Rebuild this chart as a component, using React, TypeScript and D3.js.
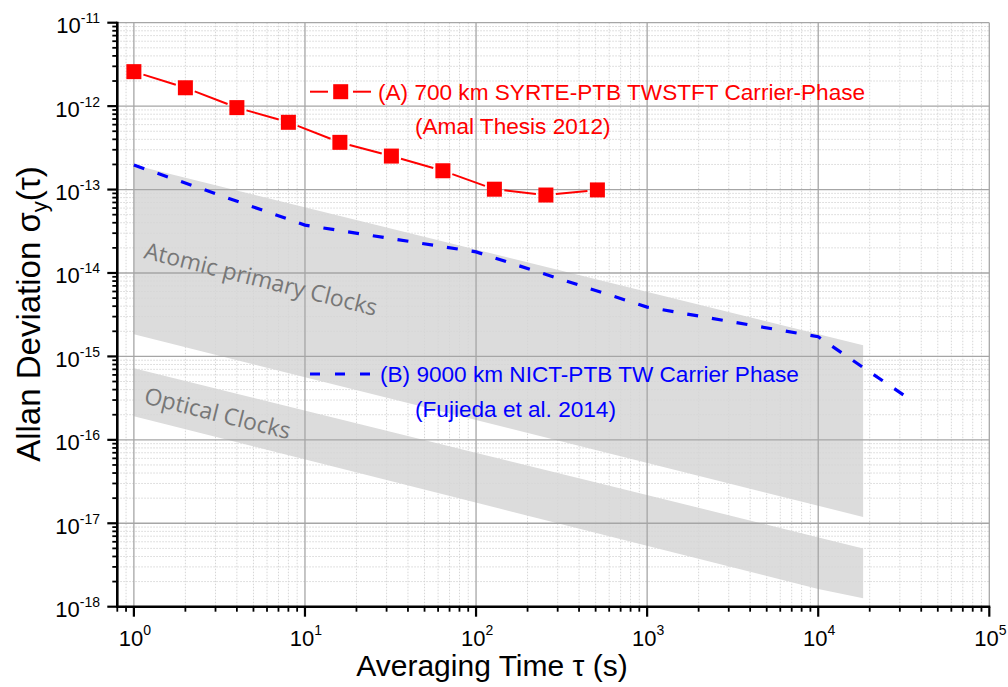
import React from "react";
import * as d3 from "d3";

// ---------- data ----------
const tauA = [1, 2, 4, 8, 16, 32, 64, 128, 256, 512];
const adevA = [2.59e-12, 1.66e-12, 9.6e-13, 6.4e-13, 3.68e-13, 2.52e-13, 1.68e-13, 1.01e-13, 8.6e-14, 9.9e-14];

const tauB = [1, 10, 100, 1000, 1e4, 3.44e4];
const adevB = [1.97e-13, 3.75e-14, 1.79e-14, 3.9e-15, 1.72e-15, 3.05e-16];

const atomicTau = [1, 1.83e4];
const atomicUpper = [1.97e-13, 1.36e-15];
const atomicLower = [1.84e-15, 1.19e-17];

const opticalUpperTau = [1, 1.83e4];
const opticalUpper = [7.2e-16, 5.0e-18];
const opticalLowerTau = [1, 1e4, 1.83e4];
const opticalLower = [1.92e-16, 1.63e-18, 1.26e-18];

const xMajor = [1, 10, 100, 1000, 1e4, 1e5];
const xMajorExp = ["0", "1", "2", "3", "4", "5"];
const yMajorExp = [-18, -17, -16, -15, -14, -13, -12, -11];

const legendA = "(A) 700 km SYRTE-PTB TWSTFT Carrier-Phase";
const legendA2 = "(Amal Thesis 2012)";
const legendB = "(B) 9000 km NICT-PTB TW Carrier Phase";
const legendB2 = "(Fujieda et al. 2014)";

// ---------- layout ----------
const W = 1008;
const H = 687;
const left = 117.3;
const right = 989.3;
const top = 22.7;
const bottom = 606.7;

const x = d3.scaleLog().domain([0.8, 1e5]).range([left, right]);
const y = d3.scaleLog().domain([1e-18, 1e-11]).range([bottom, top]);

const FONT = "'Liberation Sans', Arial, sans-serif";

function minorVals(lo: number, hi: number, start: number, end: number) {
  const out: number[] = [];
  for (let e = lo; e <= hi; e++) {
    for (let m = 2; m <= 9; m++) {
      const v = m * Math.pow(10, e);
      if (v > start * 1.0001 && v < end * 0.9999) out.push(v);
    }
  }
  return out;
}

export default function App() {
  const xMinor = [0.8, 0.9, ...minorVals(0, 4, 0.8, 1e5)];
  const yMinor = minorVals(-18, -12, 1e-18, 1e-11);

  const bandPath = (ut: number[], uv: number[], lt: number[], lv: number[]) => {
    const pts: [number, number][] = [];
    ut.forEach((t, i) => pts.push([x(t), y(uv[i])]));
    for (let i = lt.length - 1; i >= 0; i--) pts.push([x(lt[i]), y(lv[i])]);
    return d3.line()(pts) + "Z";
  };

  const lineB = d3
    .line<number>()
    .x((_, i) => x(tauB[i]))
    .y((d) => y(d))(adevB) as string;

  // red segments with gaps at markers
  const gap = 10;
  const segsA: { x1: number; y1: number; x2: number; y2: number }[] = [];
  for (let i = 0; i < tauA.length - 1; i++) {
    const x1 = x(tauA[i]), y1 = y(adevA[i]);
    const x2 = x(tauA[i + 1]), y2 = y(adevA[i + 1]);
    const L = Math.hypot(x2 - x1, y2 - y1);
    const ux = (x2 - x1) / L, uy = (y2 - y1) / L;
    segsA.push({ x1: x1 + ux * gap, y1: y1 + uy * gap, x2: x2 - ux * gap, y2: y2 - uy * gap });
  }

  const ms = 15;

  return (
    <svg
      width={W}
      height={H}
      style={{ position: "absolute", left: 0, top: 0, display: "block", background: "#fff" }}
    >
      {/* bands */}
      <path d={bandPath(atomicTau, atomicUpper, atomicTau, atomicLower)} fill="#dcdcdc" />
      <path d={bandPath(opticalUpperTau, opticalUpper, opticalLowerTau, opticalLower)} fill="#dcdcdc" />

      {/* minor grid */}
      {xMinor.map((v, i) => (
        <line key={"xm" + i} x1={x(v)} x2={x(v)} y1={top} y2={bottom} stroke="#d6d6d6" strokeWidth={1} strokeDasharray="1.5,1.5" />
      ))}
      {yMinor.map((v, i) => (
        <line key={"ym" + i} x1={left} x2={right} y1={y(v)} y2={y(v)} stroke="#d6d6d6" strokeWidth={1} strokeDasharray="1.5,1.5" />
      ))}
      {/* major grid */}
      {xMajor.map((v, i) => (
        <line key={"xM" + i} x1={x(v)} x2={x(v)} y1={top} y2={bottom} stroke="#a6a6a6" strokeWidth={1.3} />
      ))}
      {yMajorExp.map((e, i) => (
        <line key={"yM" + i} x1={left} x2={right} y1={y(Math.pow(10, e))} y2={y(Math.pow(10, e))} stroke="#a6a6a6" strokeWidth={1.3} />
      ))}

      {/* band labels */}
      <text
        x={0}
        y={0}
        transform={`translate(143,258) rotate(14)`}
        fill="#777"
        fontFamily="'Open Sans', sans-serif"
        fontSize={23}
      >
        Atomic primary Clocks
      </text>
      <text
        x={0}
        y={0}
        transform={`translate(143,403) rotate(14)`}
        fill="#777"
        fontFamily="'Open Sans', sans-serif"
        fontSize={23}
      >
        Optical Clocks
      </text>

      {/* series B */}
      <path d={lineB} fill="none" stroke="#0000ff" strokeWidth={3.2} strokeDasharray="11,14" />

      {/* series A */}
      {segsA.map((s, i) => (
        <line key={"sa" + i} x1={s.x1} y1={s.y1} x2={s.x2} y2={s.y2} stroke="#ff0000" strokeWidth={2} />
      ))}
      {tauA.map((t, i) => (
        <rect key={"ma" + i} x={x(t) - ms / 2} y={y(adevA[i]) - ms / 2} width={ms} height={ms} fill="#ff0000" />
      ))}

      {/* legends */}
      <line x1={310} x2={328} y1={91.7} y2={91.7} stroke="#ff0000" strokeWidth={2} />
      <line x1={353} x2={371} y1={91.7} y2={91.7} stroke="#ff0000" strokeWidth={2} />
      <rect x={340.7 - ms / 2} y={91.7 - ms / 2} width={ms} height={ms} fill="#ff0000" />
      <text x={378} y={100} fill="#ff0000" fontFamily={FONT} fontSize={22.6}>{legendA}</text>
      <text x={415} y={134} fill="#ff0000" fontFamily={FONT} fontSize={22.6}>{legendA2}</text>

      <line x1={310} x2={372} y1={374} y2={374} stroke="#0000ff" strokeWidth={3.2} strokeDasharray="10,15" />
      <text x={380} y={382} fill="#0000ff" fontFamily={FONT} fontSize={22.6}>{legendB}</text>
      <text x={415} y={417} fill="#0000ff" fontFamily={FONT} fontSize={22.6}>{legendB2}</text>

      {/* axes */}
      <line x1={left} x2={left} y1={top - 1} y2={bottom + 1.3} stroke="#000" strokeWidth={2.6} />
      <line x1={left - 1.3} x2={right + 1} y1={bottom} y2={bottom} stroke="#000" strokeWidth={2.6} />

      {/* y ticks */}
      {yMajorExp.map((e, i) => (
        <line key={"ytM" + i} x1={left - 10} x2={left} y1={y(Math.pow(10, e))} y2={y(Math.pow(10, e))} stroke="#000" strokeWidth={2.2} />
      ))}
      {yMinor.map((v, i) => (
        <line key={"ytm" + i} x1={left - 5} x2={left} y1={y(v)} y2={y(v)} stroke="#000" strokeWidth={1.8} />
      ))}
      {/* x ticks */}
      {xMajor.map((v, i) => (
        <line key={"xtM" + i} x1={x(v)} x2={x(v)} y1={bottom} y2={bottom + 10} stroke="#000" strokeWidth={2.2} />
      ))}
      {xMinor.map((v, i) => (
        <line key={"xtm" + i} x1={x(v)} x2={x(v)} y1={bottom} y2={bottom + 5} stroke="#000" strokeWidth={1.8} />
      ))}

      {/* y tick labels */}
      {yMajorExp.map((e, i) => (
        <text key={"ytl" + i} x={100} y={y(Math.pow(10, e)) + 10.5} textAnchor="end" fontFamily={FONT} fontSize={22} fill="#000">
          10
          <tspan fontSize={14} dy={-10}>{String(e)}</tspan>
        </text>
      ))}
      {/* x tick labels */}
      {xMajor.map((v, i) => (
        <text key={"xtl" + i} x={x(v) + 1} y={646} textAnchor="middle" fontFamily={FONT} fontSize={22} fill="#000">
          10
          <tspan fontSize={14} dy={-11}>{xMajorExp[i]}</tspan>
        </text>
      ))}

      {/* axis titles */}
      <text x={492} y={676} textAnchor="middle" fontFamily={FONT} fontSize={30} fill="#000">
        Averaging Time τ (s)
      </text>
      <text transform="translate(40,314) rotate(-90)" textAnchor="middle" fontFamily={FONT} fontSize={33} fill="#000">
        Allan Deviation σ<tspan fontSize={22} dy={7}>y</tspan>
        <tspan dy={-7}>(τ)</tspan>
      </text>
    </svg>
  );
}
